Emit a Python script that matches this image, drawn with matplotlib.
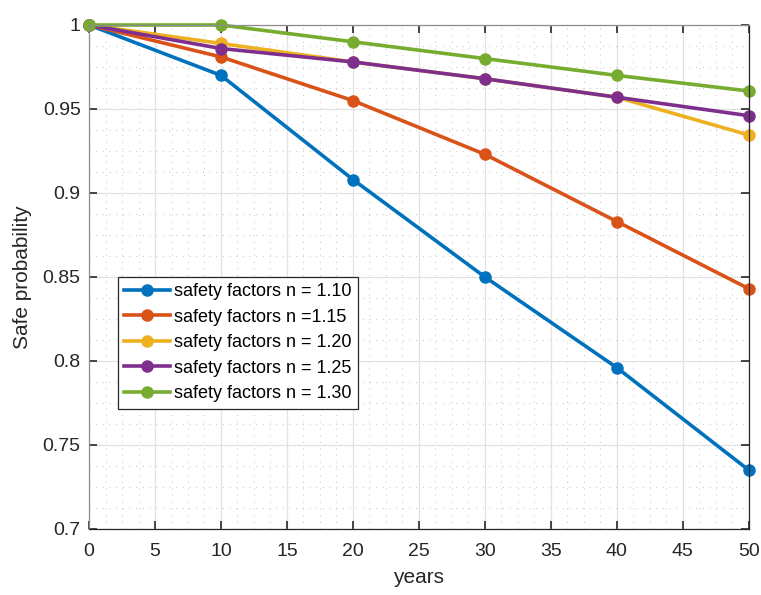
import matplotlib.pyplot as plt
from matplotlib.ticker import MultipleLocator, FuncFormatter

plt.rcParams['font.family'] = ['Liberation Sans', 'DejaVu Sans']

# data
years = [0, 10, 20, 30, 40, 50]
n110 = [1.0, 0.970, 0.908, 0.850, 0.796, 0.735]
n115 = [1.0, 0.981, 0.955, 0.923, 0.883, 0.843]
n120 = [1.0, 0.989, 0.978, 0.968, 0.957, 0.9345]
n125 = [1.0, 0.986, 0.978, 0.968, 0.957, 0.946]
n130 = [1.0, 1.0, 0.990, 0.980, 0.970, 0.9607]

labels = ['safety factors n = 1.10', 'safety factors n =1.15',
          'safety factors n = 1.20', 'safety factors n = 1.25',
          'safety factors n = 1.30']
colors = ['#0072BD', '#D95319', '#EDB120', '#7E2F8E', '#77AC30']

fig = plt.figure(figsize=(7.61, 5.95), dpi=100)
ax = fig.add_axes([0.117, 0.111, 0.867, 0.847])

for ys, lab, c in zip([n110, n115, n120, n125, n130], labels, colors):
    ax.plot(years, ys, '-o', color=c, lw=2.6, ms=8, label=lab, clip_on=False)

ax.set_xlim(0, 50)
ax.set_ylim(0.7, 1.0)
ax.xaxis.set_major_locator(MultipleLocator(5))
ax.xaxis.set_minor_locator(MultipleLocator(1.25))
ax.yaxis.set_major_locator(MultipleLocator(0.05))
ax.yaxis.set_minor_locator(MultipleLocator(0.0125))
ax.yaxis.set_major_formatter(FuncFormatter(lambda v, p: '%g' % round(v, 4)))

ax.grid(which='major', color='#e2e2e2', lw=0.9, ls='-')
ax.grid(which='minor', color='#cdcdcd', lw=0.8, ls=(0, (1, 5)))
ax.set_axisbelow(True)

ax.tick_params(which='major', direction='in', length=6, width=1.2,
               top=True, right=True, labelsize=14, colors='#262626')
ax.tick_params(axis='x', pad=10)
ax.tick_params(axis='y', pad=6)
ax.tick_params(which='minor', length=0, top=True, right=True)
for s in ax.spines.values():
    s.set_color('#262626')
    s.set_linewidth(0.9)
ax.spines['top'].set_color('#8c8c8c')
ax.spines['left'].set_color('#8c8c8c')

ax.set_xlabel('years', fontsize=15, color='#262626', labelpad=6)
ax.set_ylabel('Safe probability', fontsize=15, color='#262626', labelpad=8)

leg = ax.legend(loc='upper left', bbox_to_anchor=(0.044, 0.5), borderaxespad=0,
                fontsize=13, fancybox=False, framealpha=1, edgecolor='#262626',
                handlelength=2.5, handletextpad=0.25, labelspacing=0.47,
                borderpad=0.35)
leg.get_frame().set_linewidth(0.9)

fig.savefig('out.png', dpi=100)
